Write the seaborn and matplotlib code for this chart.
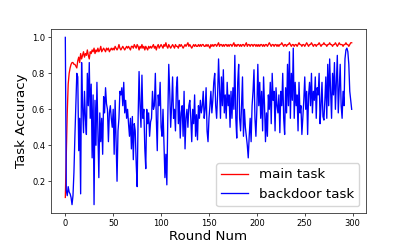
import numpy as np
import pandas as pd
import matplotlib
matplotlib.use("Agg")
import matplotlib.pyplot as plt
import seaborn as sns

rounds = list(range(300))

main_task = [
    0.11, 0.35, 0.58, 0.74, 0.80, 0.83, 0.85, 0.86, 0.86, 0.85,
    0.85, 0.84, 0.83, 0.87, 0.89, 0.86, 0.91, 0.88, 0.90, 0.92,
    0.89, 0.91, 0.90, 0.93, 0.90, 0.88, 0.92, 0.91, 0.93, 0.92,
    0.94, 0.91, 0.93, 0.92, 0.94, 0.92, 0.93, 0.95, 0.92, 0.93,
    0.94, 0.93, 0.92, 0.94, 0.93, 0.94, 0.92, 0.93, 0.94, 0.93,
    0.94, 0.93, 0.95, 0.94, 0.93, 0.94, 0.96, 0.94, 0.93, 0.94,
    0.95, 0.94, 0.93, 0.94, 0.95, 0.94, 0.95, 0.94, 0.93, 0.95,
    0.95, 0.94, 0.96, 0.95, 0.94, 0.96, 0.95, 0.93, 0.95, 0.94,
    0.96, 0.94, 0.95, 0.93, 0.95, 0.94, 0.93, 0.95, 0.94, 0.95,
    0.94, 0.95, 0.96, 0.94, 0.95, 0.93, 0.95, 0.96, 0.94, 0.95,
    0.96, 0.95, 0.94, 0.96, 0.95, 0.97, 0.95, 0.94, 0.96, 0.95,
    0.94, 0.95, 0.96, 0.95, 0.94, 0.96, 0.95, 0.95, 0.94, 0.96,
    0.95, 0.96, 0.95, 0.94, 0.95, 0.96, 0.95, 0.96, 0.97, 0.95,
    0.96, 0.95, 0.94, 0.95, 0.96, 0.95, 0.96, 0.95, 0.95, 0.96,
    0.95, 0.96, 0.95, 0.96, 0.96, 0.95, 0.95, 0.96, 0.95, 0.96,
    0.95, 0.94, 0.96, 0.95, 0.96, 0.95, 0.96, 0.96, 0.95, 0.96,
    0.97, 0.95, 0.96, 0.96, 0.95, 0.96, 0.95, 0.96, 0.96, 0.95,
    0.96, 0.95, 0.96, 0.96, 0.95, 0.96, 0.97, 0.95, 0.96, 0.95,
    0.96, 0.96, 0.95, 0.96, 0.95, 0.96, 0.96, 0.95, 0.96, 0.97,
    0.95, 0.96, 0.96, 0.95, 0.96, 0.96, 0.95, 0.96, 0.96, 0.95,
    0.96, 0.95, 0.96, 0.95, 0.96, 0.96, 0.95, 0.96, 0.95, 0.96,
    0.96, 0.95, 0.96, 0.97, 0.96, 0.95, 0.96, 0.96, 0.95, 0.96,
    0.96, 0.95, 0.96, 0.95, 0.96, 0.96, 0.97, 0.96, 0.95, 0.96,
    0.96, 0.95, 0.96, 0.96, 0.97, 0.96, 0.95, 0.96, 0.96, 0.95,
    0.96, 0.96, 0.95, 0.96, 0.97, 0.96, 0.96, 0.95, 0.96, 0.96,
    0.95, 0.96, 0.97, 0.96, 0.95, 0.96, 0.96, 0.97, 0.96, 0.95,
    0.96, 0.96, 0.95, 0.96, 0.96, 0.97, 0.96, 0.95, 0.96, 0.96,
    0.97, 0.96, 0.96, 0.95, 0.96, 0.96, 0.97, 0.96, 0.96, 0.95,
    0.96, 0.96, 0.97, 0.96, 0.95, 0.96, 0.97, 0.96, 0.96, 0.96,
    0.95, 0.96, 0.96, 0.97, 0.96, 0.96, 0.95, 0.96, 0.97, 0.97,
]

backdoor_task = [
    1.00, 0.15, 0.12, 0.17, 0.14, 0.13, 0.11, 0.07, 0.12, 0.25,
    0.45, 0.62, 0.80, 0.78, 0.37, 0.55, 0.13, 0.86, 0.62, 0.47,
    0.70, 0.55, 0.46, 0.80, 0.62, 0.86, 0.55, 0.74, 0.33, 0.68,
    0.07, 0.65, 0.40, 0.75, 0.48, 0.22, 0.58, 0.42, 0.55, 0.35,
    0.67, 0.58, 0.72, 0.63, 0.60, 0.42, 0.58, 0.62, 0.55, 0.50,
    0.60, 0.35, 0.65, 0.43, 0.20, 0.48, 0.55, 0.70, 0.68, 0.72,
    0.62, 0.75, 0.58, 0.65, 0.55, 0.60, 0.52, 0.45, 0.55, 0.38,
    0.56, 0.32, 0.52, 0.48, 0.30, 0.17, 0.55, 0.81, 0.62, 0.50,
    0.79, 0.55, 0.60, 0.38, 0.27, 0.60, 0.52, 0.58, 0.45, 0.53,
    0.55, 0.70, 0.60, 0.62, 0.80, 0.55, 0.37, 0.68, 0.62, 0.75,
    0.50, 0.45, 0.60, 0.40, 0.22, 0.35, 0.18, 0.55, 0.85, 0.70,
    0.50, 0.62, 0.78, 0.55, 0.60, 0.48, 0.72, 0.78, 0.52, 0.65,
    0.44, 0.58, 0.62, 0.45, 0.70, 0.38, 0.55, 0.60, 0.50, 0.62,
    0.65, 0.55, 0.42, 0.60, 0.52, 0.68, 0.45, 0.57, 0.43, 0.62,
    0.55, 0.65, 0.58, 0.62, 0.70, 0.55, 0.60, 0.72, 0.48, 0.42,
    0.55, 0.62, 0.70, 0.58, 0.65, 0.75, 0.80, 0.62, 0.55, 0.68,
    0.88, 0.72, 0.55, 0.78, 0.62, 0.82, 0.58, 0.68, 0.55, 0.75,
    0.62, 0.68, 0.50, 0.70, 0.55, 0.72, 0.60, 0.90, 0.55, 0.44,
    0.75, 0.85, 0.55, 0.48, 0.62, 0.78, 0.45, 0.60, 0.50, 0.45,
    0.40, 0.33, 0.45, 0.55, 0.42, 0.62, 0.70, 0.82, 0.55, 0.45,
    0.60, 0.85, 0.62, 0.75, 0.55, 0.70, 0.48, 0.78, 0.62, 0.42,
    0.58, 0.45, 0.68, 0.60, 0.75, 0.52, 0.80, 0.65, 0.70, 0.48,
    0.72, 0.62, 0.58, 0.68, 0.47, 0.70, 0.62, 0.80, 0.55, 0.46,
    0.72, 0.58, 0.85, 0.62, 0.92, 0.55, 0.80, 0.65, 0.94, 0.55,
    0.75, 0.62, 0.68, 0.48, 0.75, 0.58, 0.62, 0.46, 0.55, 0.65,
    0.78, 0.60, 0.70, 0.46, 0.68, 0.75, 0.62, 0.80, 0.58, 0.70,
    0.65, 0.78, 0.55, 0.72, 0.68, 0.80, 0.52, 0.62, 0.75, 0.56,
    0.54, 0.65, 0.78, 0.55, 0.85, 0.62, 0.88, 0.70, 0.55, 0.80,
    0.68, 0.86, 0.60, 0.75, 0.90, 0.58, 0.72, 0.85, 0.62, 0.55,
    0.70, 0.62, 0.88, 0.93, 0.94, 0.92, 0.85, 0.70, 0.65, 0.60,
]

series_names = ["main task", "backdoor task"]
series_colors = ["red", "blue"]

df = pd.DataFrame({
    "Round Num": rounds * 2,
    "Task Accuracy": main_task + backdoor_task,
    "series": [series_names[0]] * len(rounds) + [series_names[1]] * len(rounds),
})

plt.rcParams["font.family"] = ["DejaVu Sans"]
fig = plt.figure(figsize=(4.07, 2.44), dpi=100)
ax = fig.add_axes([51 / 407, 1 - 213 / 244, 315 / 407, 184 / 244])

sns.lineplot(data=df, x="Round Num", y="Task Accuracy", hue="series",
             palette=dict(zip(series_names, series_colors)),
             linewidth=0.95, ax=ax, estimator=None)

ax.set_xticks([0, 50, 100, 150, 200, 250, 300])
ax.set_yticks([0.2, 0.4, 0.6, 0.8, 1.0])
ax.tick_params(labelsize=6, length=2.2, width=0.5, pad=2)
ax.set_xlabel("Round Num", fontsize=9.6, labelpad=1.5)
ax.set_ylabel("Task Accuracy", fontsize=9.6, labelpad=3)
for s in ax.spines.values():
    s.set_linewidth(0.6)
    s.set_color("#333333")

leg = ax.legend(loc="lower right", fontsize=9.6, frameon=True, title=None)
for line in leg.get_lines():
    line.set_linewidth(0.95)

fig.savefig("out.png", dpi=100)
